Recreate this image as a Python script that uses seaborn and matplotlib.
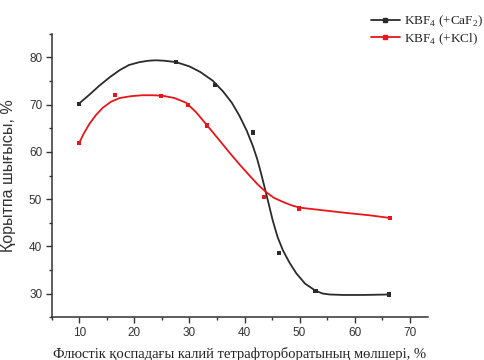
import matplotlib
matplotlib.use('Agg')
import matplotlib.pyplot as plt
from matplotlib.lines import Line2D
from matplotlib.ticker import MultipleLocator
import pandas as pd
import seaborn as sns

# measured points
caf2_x = [10, 27.6, 34.6, 41.5, 46.2, 52.9, 66.3]
caf2_y = [70.2, 79.0, 74.2, 64.1, 38.5, 30.6, 29.8]
kcl_x = [10, 16.5, 24.9, 29.8, 33.2, 43.5, 49.9, 66.5]
kcl_y = [61.9, 72.1, 71.9, 70.0, 65.6, 50.4, 48.0, 46.0]

# smoothed fit curves
caf2_fit_x = [10, 12, 13.6, 15.5, 17.3, 19, 20.9, 22.5, 23.9, 25.5, 27.6, 30, 32, 34.2,
              36.1, 37.7, 39.1, 40.4, 41.5, 42.3, 43, 43.8, 44.5, 45.1, 46, 47, 48.2,
              49.4, 51, 52.9, 54.2, 55.5, 58, 61.5, 66.3]
caf2_fit_y = [70.3, 72.3, 74.0, 75.8, 77.3, 78.4, 79.0, 79.3, 79.4, 79.3, 79.0, 78.1, 76.9, 75.1,
              72.8, 70.4, 67.6, 64.5, 61.3, 58.5, 55.5, 51.8, 48.5, 45.6, 42.0, 39.1, 36.5,
              34.3, 32.1, 30.6, 30.0, 29.8, 29.7, 29.7, 29.8]
kcl_fit_x = [10, 10.8, 11.8, 13, 14.2, 15.7, 17.3, 19.4, 21.5, 23.3, 25.1, 27.3, 29.4, 31.2,
             33.0, 35.2, 37.3, 39.2, 40.9, 42.4, 43.8, 45.3, 47, 48.5, 50, 53, 56, 59.1, 62.5, 66.5]
kcl_fit_y = [62.0, 63.9, 65.9, 67.8, 69.3, 70.6, 71.4, 71.8, 72.0, 72.0, 71.9, 71.4, 70.4, 68.4,
             65.9, 62.8, 59.8, 57.2, 55.0, 53.1, 51.6, 50.3, 49.4, 48.7, 48.2, 47.8, 47.4, 47.0, 46.6, 46.0]

black = '#2b2b2b'
red = '#e8161b'

pts = pd.concat([
    pd.DataFrame({'x': caf2_x, 'y': caf2_y, 's': 'caf2'}),
    pd.DataFrame({'x': kcl_x, 'y': kcl_y, 's': 'kcl'}),
])
fits = pd.concat([
    pd.DataFrame({'x': caf2_fit_x, 'y': caf2_fit_y, 's': 'caf2'}),
    pd.DataFrame({'x': kcl_fit_x, 'y': kcl_fit_y, 's': 'kcl'}),
])
pal = {'caf2': black, 'kcl': red}

sns.set_style('ticks')
plt.rcParams['font.family'] = ['Liberation Sans', 'DejaVu Sans']
plt.rcParams['mathtext.fontset'] = 'custom'
plt.rcParams['mathtext.rm'] = 'Liberation Serif'

fig = plt.figure(figsize=(4.85, 3.6), dpi=100)
ax = fig.add_axes([0.107, 0.119, 0.775, 0.787])

sns.lineplot(data=fits, x='x', y='y', hue='s', palette=pal, lw=1.3,
             sort=False, legend=False, ax=ax)
sns.scatterplot(data=pts, x='x', y='y', hue='s', palette=pal, marker='s',
                s=9, linewidth=0, legend=False, ax=ax, zorder=3)

ax.set_xlim(5, 73.3)
ax.set_ylim(25, 85)
ax.xaxis.set_major_locator(MultipleLocator(10))
ax.xaxis.set_minor_locator(MultipleLocator(5))
ax.yaxis.set_major_locator(MultipleLocator(10))
ax.yaxis.set_minor_locator(MultipleLocator(5))
ax.set_xticks(range(10, 71, 10))
ax.set_yticks(range(30, 81, 10))
ax.tick_params(which='major', length=4, width=1, labelsize=8.5, colors='#333333', pad=3)
ax.tick_params(which='minor', length=2, width=1, colors='#333333')
for sp in ['top', 'right']:
    ax.spines[sp].set_visible(False)
for sp in ['left', 'bottom']:
    ax.spines[sp].set_color('#333333')
    ax.spines[sp].set_linewidth(1.1)

ax.set_xlabel('Флюстік қоспадағы калий тетрафторборатының мөлшері, %',
              family=['Liberation Serif', 'DejaVu Serif'], fontsize=10.5, color='#222222', labelpad=6)
ax.set_ylabel('Қорытпа шығысы, %', fontsize=11.5, color='#333333', labelpad=9)

handles = [
    Line2D([], [], color=black, lw=1.3, marker='s', ms=2.5),
    Line2D([], [], color=red, lw=1.3, marker='s', ms=2.5),
]
labels = ['KBF$_4$ (+CaF$_2$)', 'KBF$_4$ (+KCl)']
fig.legend(handles, labels, loc='upper left', bbox_to_anchor=(0.74, 0.995),
           frameon=False, handlelength=2.2, handletextpad=0.3, labelspacing=0.15,
           prop={'family': 'Liberation Serif', 'size': 9.5})

fig.savefig('out.png', dpi=100)
